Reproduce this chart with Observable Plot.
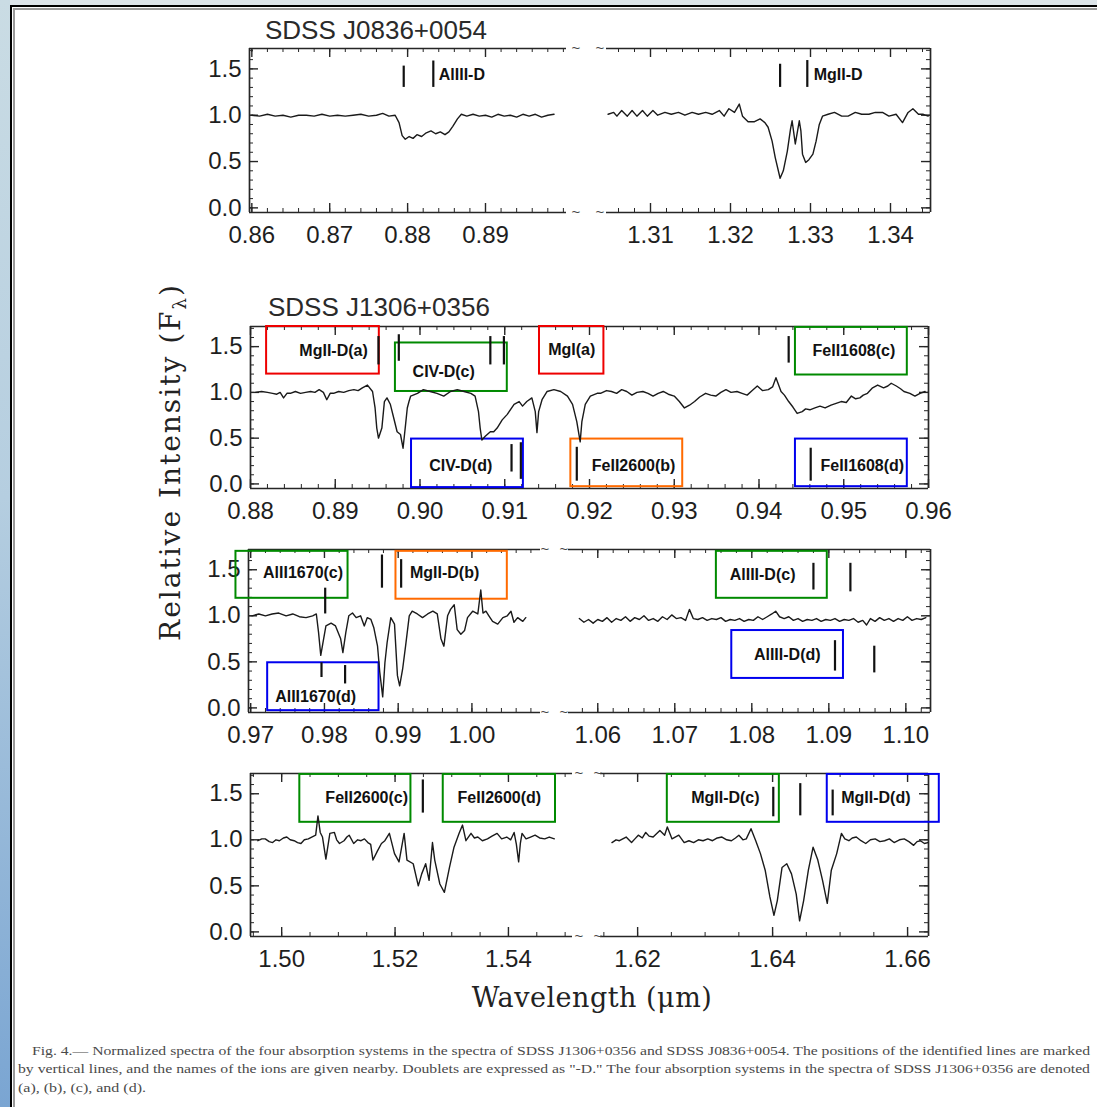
<!DOCTYPE html>
<html><head><meta charset="utf-8">
<script src="https://cdn.jsdelivr.net/npm/d3@7"></script>
<script src="https://cdn.jsdelivr.net/npm/@observablehq/plot@0.6"></script>
<style>
html,body{margin:0;padding:0;background:#fff;}
#root{position:relative;width:1097px;height:1107px;overflow:hidden;background:#dde5ea;font-family:"Liberation Sans",Arial,sans-serif;}
#strip{position:absolute;left:0;top:0;width:10px;height:1107px;background:linear-gradient(180deg,#cadce4 0%,#b5cee0 45%,#7aa5d2 100%);}
#page{position:absolute;left:10px;top:5px;width:1087px;height:1102px;background:#fff;border-left:2px solid #000;border-top:2px solid #000;box-sizing:border-box;}
#page .in{position:absolute;left:1px;top:1px;right:0;bottom:0;border-left:2px solid #9a9a9a;border-top:2px solid #9a9a9a;}
.seg{position:absolute;}
.title{position:absolute;font-size:26px;color:#2a2a2a;white-space:nowrap;line-height:1;}
.brk{position:absolute;font-size:15px;color:#444;transform:translate(-50%,-55%);line-height:1;}
#ylab{position:absolute;left:172px;top:462px;transform:translate(-50%,-50%) rotate(-90deg);font-family:"DejaVu Serif",serif;font-size:28px;letter-spacing:2px;white-space:nowrap;color:#222;}
#xlab{position:absolute;left:592px;top:997px;transform:translate(-50%,-50%);font-family:"DejaVu Serif",serif;font-size:27px;letter-spacing:0.5px;white-space:nowrap;color:#222;}
#cap{position:absolute;left:0;top:1040px;}
</style>
</head><body>
<div id="root">
  <div id="strip"></div>
  <div id="page"><div class="in"></div></div>
  <div class="title" style="left:265px;top:17px;">SDSS J0836+0054</div>
  <div class="title" style="left:268px;top:294px;">SDSS J1306+0356</div>
  <div id="ylab">Relative Intensity (F<sub style="font-size:18px">λ</sub>)</div>
  <div id="xlab">Wavelength (μm)</div>
  <svg id="cap" width="1097" height="66">
    <g font-family="Liberation Serif, serif" font-size="12" fill="#4a4a4a">
      <text x="32" y="15" textLength="1058" lengthAdjust="spacingAndGlyphs">Fig. 4.— Normalized spectra of the four absorption systems in the spectra of SDSS J1306+0356 and SDSS J0836+0054. The positions of the identified lines are marked</text>
      <text x="18" y="33" textLength="1072" lengthAdjust="spacingAndGlyphs">by vertical lines, and the names of the ions are given nearby. Doublets are expressed as "-D." The four absorption systems in the spectra of SDSS J1306+0356 are denoted</text>
      <text x="18" y="52" textLength="128" lengthAdjust="spacingAndGlyphs">(a), (b), (c), and (d).</text>
    </g>
  </svg>
</div>
<script>
// ---------- data ----------
const yDomain = [-0.05, 1.72];
const yTicks = [0, 0.5, 1.0, 1.5];

// Panel 1: SDSS J0836+0054
const p1LeftTicks = [0.86, 0.87, 0.88, 0.89];
const p1RightTicks = [1.31, 1.32, 1.33, 1.34];
const p1Left = [[0.8600,1.00],[0.8610,0.99],[0.8620,1.01],[0.8630,0.99],[0.8640,1.00],[0.8650,0.98],[0.8660,1.00],[0.8670,1.00],[0.8680,0.99],[0.8690,1.01],[0.8700,0.99],[0.8710,1.00],[0.8720,0.99],[0.8730,1.00],[0.8740,1.01],[0.8750,0.99],[0.8760,1.00],[0.8768,1.02],[0.8776,0.99],[0.8784,1.00],[0.8789,0.92],[0.8793,0.78],[0.8797,0.74],[0.8802,0.77],[0.8807,0.75],[0.8812,0.79],[0.8818,0.77],[0.8824,0.81],[0.8830,0.83],[0.8836,0.80],[0.8842,0.82],[0.8848,0.79],[0.8853,0.82],[0.8858,0.88],[0.8864,0.96],[0.8869,1.01],[0.8876,0.99],[0.8884,1.01],[0.8892,0.99],[0.8900,1.00],[0.8908,0.98],[0.8916,1.01],[0.8924,0.99],[0.8932,1.00],[0.8940,0.98],[0.8948,1.01],[0.8956,0.99],[0.8964,1.01],[0.8972,0.98],[0.8980,1.00],[0.8988,1.01]];
const p1Right = [[1.3047,1.01],[1.3054,1.03],[1.3058,0.99],[1.3064,1.05],[1.3071,0.99],[1.3077,1.05],[1.3083,0.99],[1.3090,1.05],[1.3096,0.99],[1.3103,1.05],[1.3109,1.00],[1.3118,1.03],[1.3126,1.01],[1.3135,1.03],[1.3143,1.00],[1.3152,1.03],[1.3160,1.01],[1.3169,1.03],[1.3177,1.01],[1.3186,1.05],[1.3192,0.99],[1.3198,1.07],[1.3205,1.03],[1.3211,1.12],[1.3215,0.99],[1.3222,0.93],[1.3230,0.93],[1.3237,0.96],[1.3243,0.92],[1.3247,0.87],[1.3252,0.72],[1.3256,0.54],[1.3262,0.32],[1.3266,0.40],[1.3271,0.61],[1.3275,0.85],[1.3277,0.94],[1.3281,0.69],[1.3286,0.94],[1.3288,0.83],[1.3290,0.58],[1.3294,0.49],[1.3298,0.52],[1.3303,0.58],[1.3307,0.72],[1.3311,0.90],[1.3315,0.99],[1.3322,1.01],[1.3330,1.03],[1.3339,0.99],[1.3347,0.99],[1.3356,1.03],[1.3364,1.01],[1.3373,1.01],[1.3381,1.03],[1.3390,1.03],[1.3398,0.99],[1.3407,1.01],[1.3415,0.92],[1.3422,1.03],[1.3428,1.07],[1.3435,1.01],[1.3441,1.01],[1.3447,0.99]];
const p1LeftBars = [{x:0.8795,y1:1.30,y2:1.53},{x:0.8833,y1:1.30,y2:1.585}];
const p1LeftNotes = [{x:0.8840,y:1.44,label:"AlIII-D"}];
const p1RightBars = [{x:1.3262,y1:1.30,y2:1.55},{x:1.3296,y1:1.30,y2:1.59}];
const p1RightNotes = [{x:1.3304,y:1.44,label:"MgII-D"}];

// Panel 2: SDSS J1306+0356, 0.88-0.96
const p2Ticks = [0.88, 0.89, 0.90, 0.91, 0.92, 0.93, 0.94, 0.95, 0.96];
const p2 = [[0.8806,1.00],[0.8813,1.01],[0.8820,1.00],[0.8826,0.99],[0.8831,0.98],[0.8835,1.00],[0.8839,0.94],[0.8843,0.99],[0.8847,0.99],[0.8853,1.01],[0.8859,0.99],[0.8865,1.00],[0.8871,1.01],[0.8876,1.00],[0.8881,1.03],[0.8886,1.00],[0.8890,0.92],[0.8894,0.99],[0.8898,0.99],[0.8904,1.01],[0.8910,1.00],[0.8916,1.02],[0.8922,1.03],[0.8927,1.02],[0.8932,1.05],[0.8938,1.08],[0.8944,1.01],[0.8947,0.83],[0.8949,0.61],[0.8951,0.50],[0.8955,0.61],[0.8958,0.90],[0.8961,0.94],[0.8965,0.87],[0.8969,0.72],[0.8973,0.57],[0.8977,0.54],[0.8980,0.39],[0.8983,0.65],[0.8985,0.83],[0.8987,0.90],[0.8989,0.96],[0.8997,0.99],[0.9004,1.03],[0.9012,1.01],[0.9020,0.99],[0.9028,0.96],[0.9036,1.01],[0.9044,1.03],[0.9052,1.01],[0.9060,0.99],[0.9065,0.96],[0.9069,0.79],[0.9071,0.61],[0.9073,0.48],[0.9077,0.52],[0.9083,0.57],[0.9087,0.57],[0.9091,0.61],[0.9097,0.70],[0.9103,0.76],[0.9111,0.87],[0.9117,0.90],[0.9121,0.85],[0.9126,0.90],[0.9132,0.94],[0.9136,0.79],[0.9138,0.56],[0.9140,0.79],[0.9144,0.92],[0.9150,1.01],[0.9158,1.03],[0.9166,1.01],[0.9174,0.96],[0.9180,0.87],[0.9185,0.68],[0.9189,0.46],[0.9191,0.68],[0.9195,0.87],[0.9201,0.96],[0.9209,0.99],[0.9213,0.99],[0.9220,1.02],[0.9226,1.01],[0.9232,0.99],[0.9238,1.03],[0.9244,1.01],[0.9250,0.97],[0.9256,1.00],[0.9263,1.01],[0.9269,0.99],[0.9275,0.96],[0.9281,0.99],[0.9287,1.01],[0.9293,0.98],[0.9300,0.96],[0.9306,0.90],[0.9312,0.83],[0.9318,0.86],[0.9324,0.90],[0.9330,0.95],[0.9337,0.99],[0.9343,0.97],[0.9349,0.96],[0.9355,1.00],[0.9361,1.03],[0.9367,1.00],[0.9374,1.01],[0.9380,0.99],[0.9386,0.97],[0.9392,1.02],[0.9398,1.07],[0.9404,1.02],[0.9411,1.03],[0.9416,1.06],[0.9420,1.16],[0.9426,1.01],[0.9430,0.97],[0.9435,0.90],[0.9440,0.84],[0.9445,0.77],[0.9451,0.79],[0.9455,0.82],[0.9460,0.81],[0.9466,0.83],[0.9472,0.85],[0.9478,0.83],[0.9485,0.86],[0.9491,0.88],[0.9497,0.90],[0.9503,0.89],[0.9509,0.96],[0.9514,0.93],[0.9519,0.94],[0.9523,0.97],[0.9528,0.99],[0.9534,1.05],[0.9540,1.08],[0.9547,1.05],[0.9552,1.07],[0.9556,1.10],[0.9562,1.07],[0.9567,1.04],[0.9571,1.01],[0.9578,0.99],[0.9584,0.96],[0.9590,0.99],[0.9596,1.01]];
const p2Boxes = [
  {x1:0.8819,x2:0.8952,y1:1.20,y2:1.72,c:"#ee0000",label:"MgII-D(a)",tx:0.8898,ty:1.45},
  {x1:0.8971,x2:0.9103,y1:1.01,y2:1.54,c:"#008a00",label:"CIV-D(c)",tx:0.9028,ty:1.22},
  {x1:0.9141,x2:0.9217,y1:1.20,y2:1.72,c:"#ee0000",label:"MgI(a)",tx:0.9179,ty:1.46},
  {x1:0.9443,x2:0.9575,y1:1.19,y2:1.71,c:"#008a00",label:"FeII1608(c)",tx:0.9512,ty:1.45},
  {x1:0.8990,x2:0.9122,y1:-0.04,y2:0.49,c:"#0000ee",label:"CIV-D(d)",tx:0.9048,ty:0.20},
  {x1:0.9178,x2:0.9310,y1:-0.03,y2:0.49,c:"#ff6a00",label:"FeII2600(b)",tx:0.9252,ty:0.20},
  {x1:0.9443,x2:0.9575,y1:-0.03,y2:0.49,c:"#0000ee",label:"FeII1608(d)",tx:0.9522,ty:0.20}
];
const p2Bars = [{x:0.8951,y1:1.30,y2:1.61},{x:0.8975,y1:1.34,y2:1.63},{x:0.9083,y1:1.30,y2:1.61},{x:0.9099,y1:1.30,y2:1.61},{x:0.9108,y1:0.13,y2:0.43},{x:0.9119,y1:0.05,y2:0.45},{x:0.9185,y1:0.03,y2:0.40},{x:0.9435,y1:1.32,y2:1.61},{x:0.9461,y1:0.03,y2:0.39}];

// Panel 3
const p3LeftTicks = [0.97, 0.98, 0.99, 1.00];
const p3RightTicks = [1.06, 1.07, 1.08, 1.09, 1.10];
const p3Left = [[0.9702,1.00],[0.9711,1.02],[0.9720,1.00],[0.9729,1.02],[0.9738,1.03],[0.9748,1.00],[0.9757,1.02],[0.9766,0.99],[0.9775,0.98],[0.9784,1.00],[0.9789,1.02],[0.9792,0.82],[0.9795,0.57],[0.9798,0.71],[0.9802,0.89],[0.9809,0.92],[0.9815,0.89],[0.9822,0.75],[0.9825,0.60],[0.9829,0.82],[0.9833,1.00],[0.9838,1.03],[0.9843,0.98],[0.9849,1.00],[0.9854,0.89],[0.9858,0.98],[0.9863,0.96],[0.9867,0.87],[0.9872,0.67],[0.9875,0.39],[0.9879,0.12],[0.9882,0.49],[0.9885,0.71],[0.9890,0.98],[0.9895,0.91],[0.9899,0.35],[0.9902,0.24],[0.9906,0.42],[0.9910,0.67],[0.9915,1.00],[0.9919,1.05],[0.9926,1.02],[0.9933,0.98],[0.9940,1.02],[0.9947,1.05],[0.9953,1.02],[0.9958,0.75],[0.9962,0.67],[0.9967,1.00],[0.9971,1.07],[0.9976,1.12],[0.9980,0.85],[0.9985,0.80],[0.9990,0.84],[0.9994,0.98],[1.0001,1.05],[1.0008,1.02],[1.0012,1.28],[1.0015,1.03],[1.0019,1.05],[1.0023,1.00],[1.0028,0.94],[1.0035,0.91],[1.0042,0.98],[1.0048,1.00],[1.0053,1.05],[1.0057,0.93],[1.0062,0.98],[1.0069,0.94],[1.0073,0.98]];
const p3Right = [[1.0576,0.97],[1.0582,0.93],[1.0588,0.96],[1.0594,0.92],[1.0600,0.96],[1.0606,0.94],[1.0612,0.98],[1.0618,0.93],[1.0624,0.97],[1.0630,0.95],[1.0636,0.99],[1.0642,0.94],[1.0648,0.98],[1.0654,0.96],[1.0660,1.00],[1.0666,0.95],[1.0672,0.97],[1.0678,0.94],[1.0684,0.99],[1.0690,0.96],[1.0696,1.01],[1.0702,0.97],[1.0708,0.98],[1.0714,0.95],[1.0719,1.07],[1.0724,0.97],[1.0730,0.96],[1.0736,0.98],[1.0742,0.95],[1.0748,0.97],[1.0754,0.96],[1.0760,0.98],[1.0766,0.94],[1.0772,0.96],[1.0778,0.95],[1.0784,0.97],[1.0790,0.94],[1.0796,0.96],[1.0802,0.95],[1.0808,0.99],[1.0814,0.96],[1.0820,0.99],[1.0826,1.02],[1.0831,1.05],[1.0836,0.99],[1.0842,0.97],[1.0848,0.99],[1.0854,0.95],[1.0860,0.97],[1.0866,0.94],[1.0872,0.96],[1.0878,0.95],[1.0884,0.97],[1.0890,0.94],[1.0896,0.96],[1.0902,0.95],[1.0908,0.97],[1.0914,0.94],[1.0920,0.96],[1.0926,0.95],[1.0932,0.97],[1.0938,0.93],[1.0944,0.95],[1.0949,0.90],[1.0954,0.97],[1.0960,0.94],[1.0966,0.98],[1.0972,0.95],[1.0978,0.97],[1.0984,0.94],[1.0990,0.97],[1.0996,0.95],[1.1002,0.99],[1.1008,0.95],[1.1014,0.97],[1.1020,0.96],[1.1026,0.98]];
const p3LeftBoxes = [
  {x1:0.9680,x2:0.9832,y1:1.19,y2:1.70,c:"#008a00",label:"AlII1670(c)",tx:0.9771,ty:1.47},
  {x1:0.9897,x2:1.0048,y1:1.18,y2:1.70,c:"#ff6a00",label:"MgII-D(b)",tx:0.9963,ty:1.47},
  {x1:0.9723,x2:0.9874,y1:-0.03,y2:0.49,c:"#0000ee",label:"AlII1670(d)",tx:0.9788,ty:0.12}
];
const p3LeftBars = [{x:0.9801,y1:1.02,y2:1.30},{x:0.9796,y1:0.33,y2:0.49},{x:0.9828,y1:0.26,y2:0.46},{x:0.9878,y1:1.30,y2:1.66},{x:0.9904,y1:1.30,y2:1.61}];
const p3RightBoxes = [
  {x1:1.0754,x2:1.0898,y1:1.19,y2:1.70,c:"#008a00",label:"AlIII-D(c)",tx:1.0814,ty:1.44},
  {x1:1.0774,x2:1.0919,y1:0.32,y2:0.84,c:"#0000ee",label:"AlIII-D(d)",tx:1.0846,ty:0.58}
];
const p3RightBars = [{x:1.0880,y1:1.28,y2:1.57},{x:1.0928,y1:1.26,y2:1.57},{x:1.0908,y1:0.40,y2:0.73},{x:1.0959,y1:0.38,y2:0.67}];

// Panel 4
const p4LeftTicks = [1.50, 1.52, 1.54];
const p4RightTicks = [1.62, 1.64, 1.66];
const p4Left = [[1.4958,0.99],[1.4965,1.01],[1.4971,1.01],[1.4978,0.98],[1.4984,0.97],[1.4990,1.00],[1.4996,0.99],[1.5003,1.02],[1.5009,1.03],[1.5015,1.00],[1.5022,0.99],[1.5028,0.97],[1.5034,0.96],[1.5040,1.00],[1.5047,1.01],[1.5053,1.03],[1.5060,1.05],[1.5064,1.26],[1.5068,1.08],[1.5072,1.03],[1.5078,0.79],[1.5085,1.07],[1.5093,1.08],[1.5097,1.00],[1.5102,0.96],[1.5110,0.99],[1.5115,1.03],[1.5119,1.05],[1.5127,0.96],[1.5134,1.00],[1.5140,0.99],[1.5146,1.01],[1.5152,0.97],[1.5157,0.95],[1.5161,0.78],[1.5169,0.88],[1.5176,0.96],[1.5182,0.99],[1.5190,1.07],[1.5199,0.85],[1.5207,0.76],[1.5216,1.07],[1.5221,0.78],[1.5232,0.74],[1.5241,0.50],[1.5247,0.63],[1.5254,0.74],[1.5260,0.56],[1.5266,0.97],[1.5270,0.78],[1.5279,0.52],[1.5287,0.43],[1.5296,0.70],[1.5304,0.92],[1.5313,1.07],[1.5319,1.16],[1.5325,0.99],[1.5334,1.07],[1.5340,1.02],[1.5346,1.03],[1.5354,0.99],[1.5363,1.01],[1.5371,1.04],[1.5380,1.07],[1.5388,1.01],[1.5397,1.03],[1.5404,1.00],[1.5410,1.08],[1.5414,0.95],[1.5418,0.76],[1.5421,0.96],[1.5424,1.07],[1.5431,1.01],[1.5439,1.03],[1.5447,1.05],[1.5455,1.02],[1.5464,1.01],[1.5472,1.03],[1.5481,1.01]];
const p4Right = [[1.6162,0.97],[1.6168,1.00],[1.6173,0.99],[1.6178,1.01],[1.6183,1.03],[1.6191,0.97],[1.6196,1.01],[1.6201,1.05],[1.6207,1.02],[1.6212,1.08],[1.6217,1.04],[1.6223,1.03],[1.6233,1.10],[1.6240,1.05],[1.6244,1.14],[1.6251,1.01],[1.6261,1.05],[1.6269,0.97],[1.6276,0.99],[1.6283,0.97],[1.6290,1.00],[1.6297,0.99],[1.6304,1.01],[1.6311,0.99],[1.6318,1.02],[1.6325,1.03],[1.6332,1.00],[1.6339,0.99],[1.6345,1.02],[1.6350,1.05],[1.6356,1.00],[1.6361,1.01],[1.6368,1.12],[1.6375,0.99],[1.6382,0.85],[1.6389,0.67],[1.6396,0.38],[1.6402,0.18],[1.6407,0.34],[1.6414,0.70],[1.6421,0.74],[1.6428,0.63],[1.6435,0.41],[1.6440,0.12],[1.6446,0.34],[1.6453,0.67],[1.6460,0.92],[1.6467,0.78],[1.6474,0.56],[1.6481,0.31],[1.6487,0.67],[1.6495,0.85],[1.6502,1.07],[1.6507,1.01],[1.6513,0.99],[1.6518,1.02],[1.6524,1.03],[1.6531,0.99],[1.6538,0.96],[1.6545,1.00],[1.6552,1.01],[1.6559,0.98],[1.6566,0.99],[1.6573,1.01],[1.6580,0.97],[1.6588,1.00],[1.6595,1.01],[1.6602,0.98],[1.6609,0.94],[1.6614,0.98],[1.6619,0.99],[1.6625,0.96],[1.6630,0.97]];
const p4LeftBoxes = [
  {x1:1.5032,x2:1.5228,y1:1.19,y2:1.71,c:"#008a00",label:"FeII2600(c)",tx:1.5150,ty:1.45},
  {x1:1.5285,x2:1.5483,y1:1.19,y2:1.71,c:"#008a00",label:"FeII2600(d)",tx:1.5384,ty:1.45}
];
const p4LeftBars = [{x:1.5249,y1:1.29,y2:1.65}];
const p4RightBoxes = [
  {x1:1.6244,x2:1.6410,y1:1.19,y2:1.71,c:"#008a00",label:"MgII-D(c)",tx:1.6330,ty:1.45},
  {x1:1.6481,x2:1.6647,y1:1.19,y2:1.71,c:"#0000ee",label:"MgII-D(d)",tx:1.6553,ty:1.45}
];
const p4RightBars = [{x:1.6401,y1:1.25,y2:1.57},{x:1.6441,y1:1.26,y2:1.61},{x:1.6489,y1:1.26,y2:1.54}];

// ---------- drawing ----------
const root = document.getElementById("root");
const ink = "#262626";
const yMinor = d3.range(0, 1.71, 0.1);

function seg(o) {
  const mL = o.left ? 70 : 4, mR = o.right ? 36 : 4, mT = 4, mB = 44;
  const w = o.px[1] - o.px[0], h = o.py[1] - o.py[0];
  const minor = d3.range(o.xd[0], o.xd[1], o.step).map(v => Math.ceil(v / o.step - 1e-6) * o.step).filter(v => v >= o.xd[0] && v <= o.xd[1]);
  const marks = [
    Plot.ruleY(yDomain, {stroke: ink, strokeWidth: 1.7}),
    Plot.ruleX(o.ticks, {insetTop: h - 9, stroke: ink, strokeWidth: 1.4}),
    Plot.ruleX(o.ticks, {insetBottom: h - 9, stroke: ink, strokeWidth: 1.4}),
    Plot.ruleX(minor, {insetTop: h - 4, stroke: ink, strokeWidth: 1}),
    Plot.ruleX(minor, {insetBottom: h - 4, stroke: ink, strokeWidth: 1}),
    Plot.text(o.ticks, {x: d => d, frameAnchor: "bottom", lineAnchor: "top", dy: 13, text: d => d.toFixed(2), fontSize: 24, fill: "#1e1e1e"})
  ];
  if (o.left) {
    marks.push(
      Plot.ruleX([o.xd[0]], {stroke: ink, strokeWidth: 1.7}),
      Plot.ruleY(yTicks, {insetRight: w - 9, stroke: ink, strokeWidth: 1.4}),
      Plot.ruleY(yMinor, {insetRight: w - 4, stroke: ink, strokeWidth: 1}),
      Plot.text(yTicks, {y: d => d, frameAnchor: "left", textAnchor: "end", dx: -8, text: d => d.toFixed(1), fontSize: 24, fill: "#1e1e1e"})
    );
  }
  if (o.right) {
    marks.push(
      Plot.ruleX([o.xd[1]], {stroke: ink, strokeWidth: 1.7}),
      Plot.ruleY(yTicks, {insetLeft: w - 9, stroke: ink, strokeWidth: 1.4}),
      Plot.ruleY(yMinor, {insetLeft: w - 4, stroke: ink, strokeWidth: 1})
    );
  }
  if (o.boxes) {
    marks.push(
      Plot.rect(o.boxes, {x1: "x1", x2: "x2", y1: "y1", y2: "y2", stroke: "c", fill: "none", strokeWidth: 2}),
      Plot.text(o.boxes, {x: "tx", y: "ty", text: "label", textAnchor: "middle", fontSize: 16, fontWeight: "bold", fill: "#111"})
    );
  }
  if (o.bars) marks.push(Plot.ruleX(o.bars, {x: "x", y1: "y1", y2: "y2", stroke: "#111", strokeWidth: 2.2}));
  if (o.notes) marks.push(Plot.text(o.notes, {x: "x", y: "y", text: "label", textAnchor: "start", fontSize: 16, fontWeight: "bold", fill: "#111"}));
  marks.push(Plot.line(o.data, {x: d => d[0], y: d => d[1], stroke: "#1a1a1a", strokeWidth: 1.4}));
  const p = Plot.plot({
    width: w + mL + mR, height: h + mT + mB,
    marginLeft: mL, marginRight: mR, marginTop: mT, marginBottom: mB,
    x: {domain: o.xd, axis: null},
    y: {domain: yDomain, axis: null},
    color: {type: "identity"},
    style: {overflow: "visible", background: "transparent", fontFamily: "'Liberation Sans', Arial, sans-serif"},
    marks
  });
  p.classList.add("seg");
  p.style.left = (o.px[0] - mL) + "px";
  p.style.top = (o.py[0] - mT) + "px";
  root.appendChild(p);
}

seg({data: p1Left, xd: [0.8597, 0.9004], px: [249, 566], py: [48, 212], ticks: p1LeftTicks, step: 0.002, left: true, bars: p1LeftBars, notes: p1LeftNotes});
seg({data: p1Right, xd: [1.3045, 1.3450], px: [606, 930], py: [48, 212], ticks: p1RightTicks, step: 0.002, right: true, bars: p1RightBars, notes: p1RightNotes});
seg({data: p2, xd: [0.88, 0.96], px: [250, 928], py: [326, 488], ticks: p2Ticks, step: 0.002, left: true, right: true, boxes: p2Boxes, bars: p2Bars});
seg({data: p3Left, xd: [0.9697, 1.0093], px: [248, 540], py: [549, 712], ticks: p3LeftTicks, step: 0.002, left: true, boxes: p3LeftBoxes, bars: p3LeftBars});
seg({data: p3Right, xd: [1.0562, 1.1032], px: [568, 930], py: [549, 712], ticks: p3RightTicks, step: 0.002, right: true, boxes: p3RightBoxes, bars: p3RightBars});
seg({data: p4Left, xd: [1.4945, 1.5513], px: [250, 572], py: [773, 936], ticks: p4LeftTicks, step: 0.005, left: true, boxes: p4LeftBoxes, bars: p4LeftBars});
seg({data: p4Right, xd: [1.6145, 1.6631], px: [600, 928], py: [773, 936], ticks: p4RightTicks, step: 0.005, right: true, boxes: p4RightBoxes, bars: p4RightBars});

// axis-break marks
[[576,48],[600,48],[576,212],[600,212],[545,549],[564,549],[545,712],[564,712],[579,773],[598,773],[579,936],[598,936]].forEach(([x,y]) => {
  const s = document.createElement("div");
  s.className = "brk"; s.textContent = "~";
  s.style.left = x + "px"; s.style.top = y + "px";
  root.appendChild(s);
});
</script>
</body></html>
